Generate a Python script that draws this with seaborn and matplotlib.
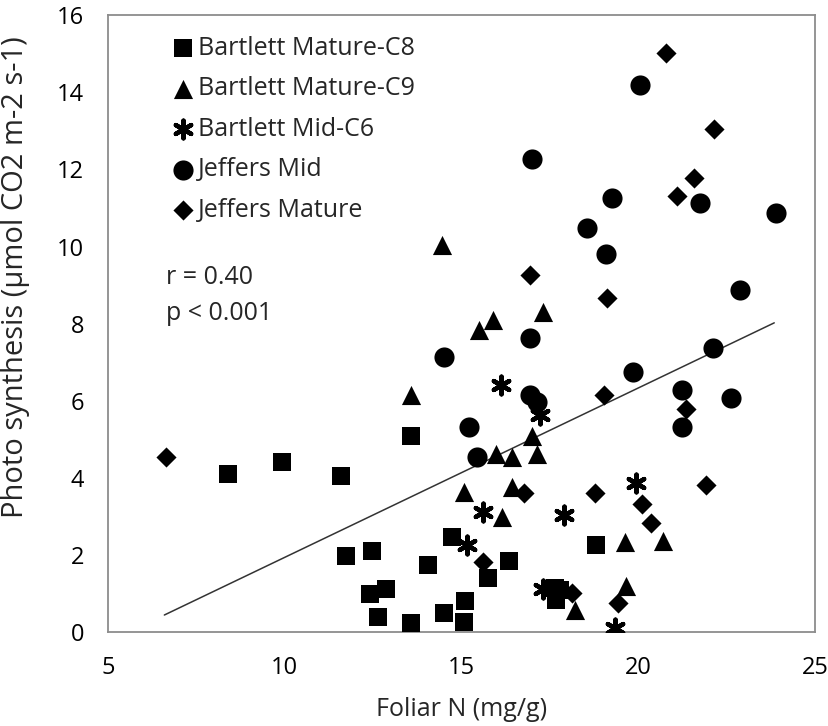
import matplotlib
matplotlib.use("Agg")
import matplotlib.pyplot as plt
import seaborn as sns
import pandas as pd

# ---- data ----
c8_x = [8.40, 9.93, 11.61, 13.59, 11.75, 12.46, 14.06, 14.75, 12.41, 12.88, 12.65,
        13.59, 14.50, 15.10, 15.07, 16.36, 15.76, 18.82, 17.65, 17.79, 17.69]
c8_y = [4.10, 4.42, 4.05, 5.09, 1.98, 2.11, 1.75, 2.47, 0.98, 1.12, 0.40,
        0.24, 0.49, 0.81, 0.27, 1.85, 1.39, 2.26, 1.13, 1.09, 0.83]

c9_x = [13.59, 15.50, 15.90, 14.44, 17.30, 17.01, 17.14, 15.98, 16.42, 15.07, 16.42,
        16.16, 20.71, 19.63, 19.67, 18.21]
c9_y = [6.15, 7.83, 8.09, 10.04, 8.31, 5.08, 4.63, 4.63, 4.55, 3.64, 3.75,
        2.99, 2.36, 2.34, 1.19, 0.57]

c6_x = [16.13, 17.22, 15.62, 17.91, 19.94, 15.15, 19.34, 17.32]
c6_y = [6.41, 5.63, 3.12, 3.03, 3.86, 2.26, 0.10, 1.11]

jmid_x = [14.50, 16.95, 16.94, 17.13, 15.22, 15.43, 19.86, 22.12, 21.25, 21.25, 22.64,
          20.06, 17.00, 21.75, 23.89, 19.27, 18.54, 19.08, 22.88]
jmid_y = [7.14, 7.62, 6.15, 5.97, 5.32, 4.53, 6.75, 7.38, 6.29, 5.31, 6.06,
          14.19, 12.26, 11.12, 10.86, 11.26, 10.49, 9.80, 8.87]

jmat_x = [6.66, 19.03, 21.35, 16.77, 18.78, 20.11, 20.36, 21.93, 15.62, 19.42, 18.12,
          20.80, 22.14, 21.58, 21.10, 16.95, 19.11]
jmat_y = [4.55, 6.15, 5.79, 3.60, 3.60, 3.31, 2.84, 3.81, 1.82, 0.74, 1.00,
          15.01, 13.06, 11.77, 11.31, 9.26, 8.67]

series_names = ["Bartlett Mature-C8", "Bartlett Mature-C9", "Bartlett Mid-C6",
                "Jeffers Mid", "Jeffers Mature"]

fit_x = [6.6, 23.85]
fit_y = [0.44, 8.02]

x_ticks = [5, 10, 15, 20, 25]
y_ticks = [0, 2, 4, 6, 8, 10, 12, 14, 16]

# ---- plotting ----
sns.set_theme(style="white")
plt.rcParams["font.family"] = ["Open Sans", "DejaVu Sans"]

fig = plt.figure(figsize=(8.29, 7.26), dpi=100)
ax = fig.add_axes([0.130, 0.1295, 0.853, 0.8495])

styles = [
    ("s", 170, 0),
    ("^", 190, 0),
    ((6, 2, 0), 160, 3.2),
    ("o", 210, 0),
    ("D", 105, 0),
]
xs = [c8_x, c9_x, c6_x, jmid_x, jmat_x]
ys = [c8_y, c9_y, c6_y, jmid_y, jmat_y]

for name, x, y, (m, s, lw) in zip(series_names, xs, ys, styles):
    df = pd.DataFrame({"x": x, "y": y})
    sns.scatterplot(data=df, x="x", y="y", ax=ax, marker=m, s=s, color="black",
                    edgecolor="black", linewidth=lw, label=name, zorder=3)

sns.lineplot(x=fit_x, y=fit_y, ax=ax, color="#333333", linewidth=1.1, zorder=2)

ax.set_xlim(5, 25)
ax.set_ylim(0, 16)
ax.set_xticks(x_ticks)
ax.set_yticks(y_ticks)
ax.tick_params(axis="both", direction="out", length=8, width=1.2, color="#8c8c8c",
               labelsize=17, labelcolor="black", pad=9)
for sp in ax.spines.values():
    sp.set_color("#8c8c8c")
    sp.set_linewidth(1.3)

ax.set_xlabel("Foliar N (mg/g)", fontsize=18)
ax.set_ylabel("Photo synthesis (\u03bcmol CO2 m-2 s-1)", fontsize=21)
ax.xaxis.set_label_coords(0.5, -0.105)
ax.yaxis.set_label_coords(-0.110, 0.575)

leg = ax.legend(loc="upper left", bbox_to_anchor=(0.089, 0.967), frameon=False,
                fontsize=18, handletextpad=0.08, labelspacing=0.62, borderaxespad=0,
                handlelength=1.0, borderpad=0)

ax.text(0.083, 0.574, "r = 0.40", transform=ax.transAxes, fontsize=18, va="center")
ax.text(0.083, 0.517, "p < 0.001", transform=ax.transAxes, fontsize=18, va="center")

fig.savefig("out.png", dpi=100)
